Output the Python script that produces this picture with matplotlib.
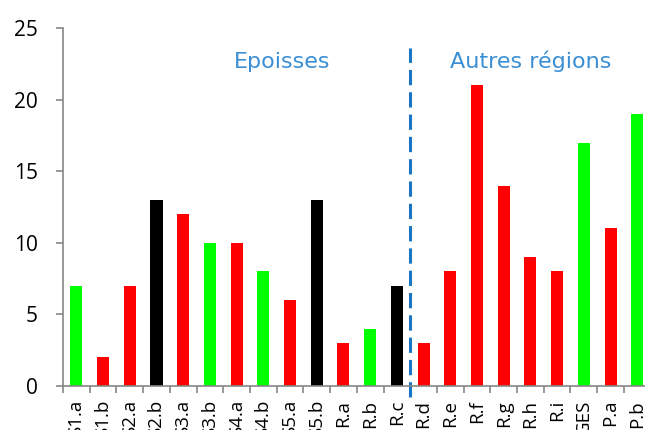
import numpy as np
import matplotlib.pyplot as plt

labels = ['S1.a', 'S1.b', 'S2.a', 'S2.b', 'S3.a', 'S3.b', 'S4.a', 'S4.b', 'S5.a', 'S5.b',
          'R.a', 'R.b', 'R.c', 'R.d', 'R.e', 'R.f', 'R.g', 'R.h', 'R.i', 'GES', 'P.a', 'P.b']
values = [7, 2, 7, 13, 12, 10, 10, 8, 6, 13, 3, 4, 7, 3, 8, 21, 14, 9, 8, 17, 11, 19]
colors = ['#00ff00', '#ff0000', '#ff0000', '#000000', '#ff0000', '#00ff00', '#ff0000',
          '#00ff00', '#ff0000', '#000000', '#ff0000', '#00ff00', '#000000', '#ff0000',
          '#ff0000', '#ff0000', '#ff0000', '#ff0000', '#ff0000', '#00ff00', '#ff0000', '#00ff00']
split_after = 'R.c'

plt.rcParams['font.family'] = ['Open Sans', 'DejaVu Sans']

fig = plt.figure(figsize=(6.45, 4.3), dpi=100)
ax = fig.add_axes([0.0977, 0.1023, 0.911, 0.8326])

x = np.arange(len(labels))
ax.bar(x, values, width=0.45, color=colors)

ax.set_xlim(-0.5, len(labels) - 0.5)
ax.set_ylim(0, 25)
ax.set_yticks([0, 5, 10, 15, 20, 25])
ax.tick_params(axis='y', labelsize=15, length=5, color='#868686', width=1.2, pad=13)

ax.set_xticks(x)
ax.set_xticklabels(labels, rotation=90, fontsize=13.5, va='top')
ax.tick_params(axis='x', which='major', length=0, pad=10)
ax.set_xticks(np.arange(len(labels) + 1) - 0.5, minor=True)
ax.tick_params(axis='x', which='minor', length=5, color='#868686', width=1.2)

for s in ['top', 'right']:
    ax.spines[s].set_visible(False)
for s in ['left', 'bottom']:
    ax.spines[s].set_color('#868686')
    ax.spines[s].set_linewidth(1.2)

# separation Epoisses / autres regions
xs = labels.index(split_after) + 0.5
ax.plot([xs, xs], [-0.8, 23.6], color='#1a75c4', linestyle=(0, (5, 2.3)),
        linewidth=2.2, clip_on=False)

ax.text(7.7, 22.2, 'Epoisses', color='#3a8fd4', fontsize=16, ha='center',
        family='DejaVu Sans')
ax.text(17.0, 22.2, 'Autres régions', color='#3a8fd4', fontsize=16, ha='center',
        family='DejaVu Sans')

fig.savefig('out.png', dpi=100)
